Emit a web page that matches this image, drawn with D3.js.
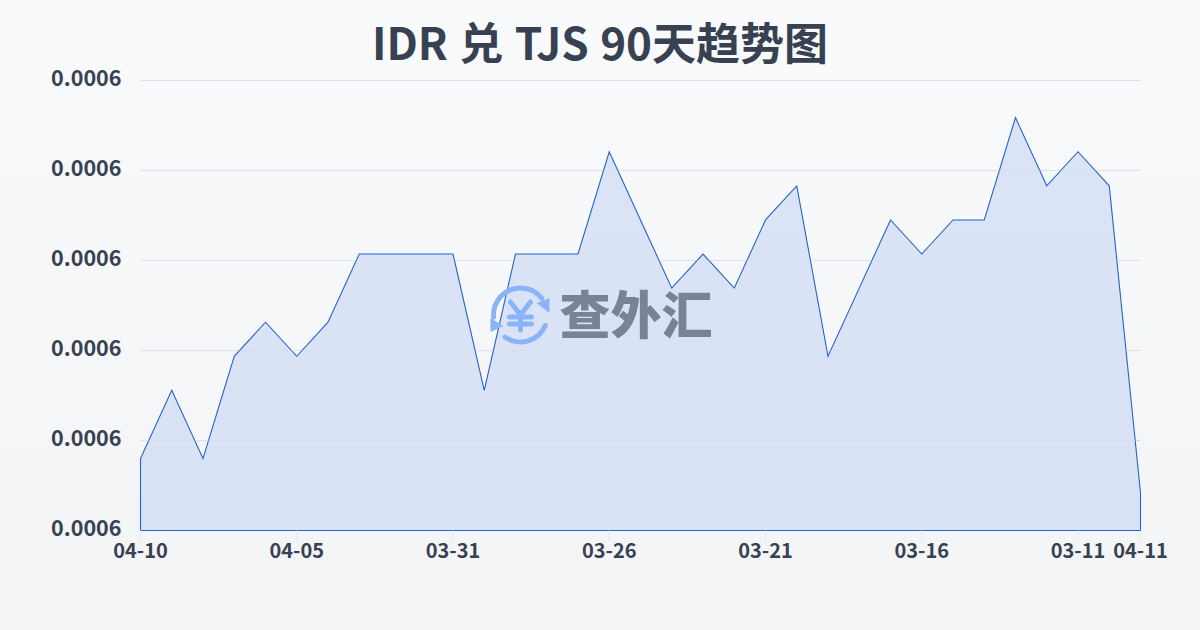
<!DOCTYPE html>
<html><head><meta charset="utf-8">
<script src="https://cdn.jsdelivr.net/npm/d3@7/dist/d3.min.js"></script>
<style>html,body{margin:0;padding:0;background:#f8fafc}svg{display:block}</style>
</head><body><div id="c"></div>
<script>
const titleText = "IDR 兑 TJS 90天趋势图";
const dates = ["04-10","04-09","04-08","04-07","04-06","04-05","04-04","04-03","04-02","04-01","03-31","03-30","03-29","03-28","03-27","03-26","03-25","03-24","03-23","03-22","03-21","03-20","03-19","03-18","03-17","03-16","03-15","03-14","03-13","03-12","03-11","03-10","04-11"];
const rates = [0.000591,0.000593,0.000591,0.000594,0.000595,0.000594,0.000595,0.000597,0.000597,0.000597,0.000597,0.000593,0.000597,0.000597,0.000597,0.000600,0.000598,0.000596,0.000597,0.000596,0.000598,0.000599,0.000594,0.000596,0.000598,0.000597,0.000598,0.000598,0.000601,0.000599,0.000600,0.000599,0.000590];
const yDomain = [0.00058889,0.00060209];
const yTickCount = 5;
const watermark = "查外汇";

const W=1200,H=630,m={t:80.5,r:59.5,b:99.5,l:140.5};
const svg=d3.select("#c").append("svg").attr("width",W).attr("height",H);
const defs=svg.append("defs");
const bg=defs.append("linearGradient").attr("id","bg").attr("x1",0).attr("y1",0).attr("x2",0).attr("y2",1);
bg.append("stop").attr("offset",0).attr("stop-color","#f9fafb");
bg.append("stop").attr("offset",1).attr("stop-color","#f3f4f6");
const ag=defs.append("linearGradient").attr("id","ag").attr("x1",0).attr("y1",0).attr("x2",0).attr("y2",1);
ag.append("stop").attr("offset",0).attr("stop-color","#dbe4f7");
ag.append("stop").attr("offset",1).attr("stop-color","#d9e2f5");
svg.append("rect").attr("width",W).attr("height",H).attr("fill","url(#bg)");

const x=d3.scalePoint().domain(d3.range(dates.length)).range([m.l,W-m.r]);
const y=d3.scaleLinear().domain(yDomain).range([H-m.b,m.t]);
const cjk='"Noto Sans CJK SC","Noto Sans",sans-serif';
const ink="#374151";

svg.append("text").attr("x",600).attr("y",60).attr("text-anchor","middle").style("word-spacing","1.5px")
  .attr("font-family",cjk).attr("font-weight",700).attr("font-size",44).attr("fill",ink).text(titleText);

const yTicks=d3.range(yTickCount+1).map(i=>yDomain[0]+(yDomain[1]-yDomain[0])*i/yTickCount);
const yAxis=d3.axisLeft(y).offset(0).tickValues(yTicks).tickFormat(d3.format(".4f")).tickSize(-(W-m.l-m.r)).tickPadding(19);
const gy=svg.append("g").attr("transform","translate("+m.l+",0)").call(yAxis);
gy.select(".domain").remove();
gy.selectAll("line").attr("stroke","#e5e7eb").attr("stroke-width",1);
gy.selectAll("text").attr("font-family",cjk).attr("font-weight",700).attr("font-size",21.5).attr("fill",ink).attr("dy","0.26em");

const area=d3.area().x((d,i)=>x(i)).y0(y(yDomain[0])).y1(d=>y(d));
svg.append("path").datum(rates).attr("d",area).attr("fill","url(#ag)").attr("stroke","#2563c8").attr("stroke-width",1.1);

const gl=svg.append("g");
gl.selectAll("line").data(yTicks.slice(1)).join("line").attr("x1",m.l).attr("x2",W-m.r)
  .attr("y1",d=>y(d)).attr("y2",d=>y(d)).attr("stroke","#cbd5e1").attr("stroke-opacity",.35);

const idx=d3.range(dates.length).filter(i=>i===dates.length-1||(i%5===0&&i<=30));
const xAxis=d3.axisBottom(x).offset(0).tickValues(idx).tickFormat(i=>dates[i]).tickSize(10).tickPadding(3);
const gx=svg.append("g").attr("transform","translate(0,"+(H-m.b)+")").call(xAxis);
gx.select(".domain").remove();
gx.selectAll("line").attr("stroke","#e5e7eb");
gx.selectAll("text").attr("font-family",cjk).attr("font-weight",700).attr("font-size",20).attr("fill",ink);

// watermark logo and wordmark
const wm=svg.append("g");
const blue="#8ab4f8";
const logo=wm.append("g").attr("transform","translate(520.5,315)");
const arc=d3.arc().innerRadius(24.5).outerRadius(29.5).cornerRadius(2.5);
[[-1.75,1.0],[1.87,3.84]].forEach(a=>logo.append("path")
  .attr("d",arc({startAngle:a[0],endAngle:a[1]})).attr("fill",blue));
logo.append("path").attr("d","M16,-12L29,-17L29,-2Z").attr("fill",blue);
logo.append("path").attr("d","M-30,3L-30,17L-17,11Z").attr("fill",blue);
logo.append("path").attr("d","M-10,-13L0,0L10,-13M-11,2H11M-11,9H11M0,0V15")
  .attr("fill","none").attr("stroke",blue).attr("stroke-width",5).attr("stroke-linecap","round").attr("stroke-linejoin","round");
wm.append("text").attr("x",636).attr("y",334).attr("text-anchor","middle").attr("font-family",cjk)
  .attr("font-weight",900).attr("font-size",51).attr("fill","#7a8296").text(watermark);
</script></body></html>
